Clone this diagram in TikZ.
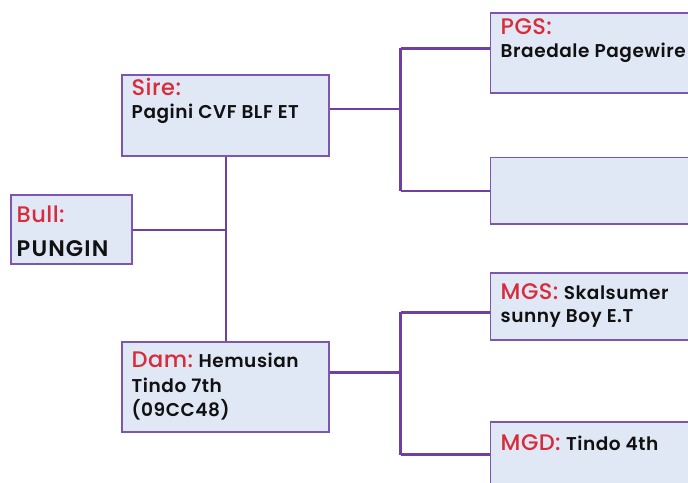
\documentclass[tikz,border=0pt]{standalone}
\usepackage{fontspec}
\setmainfont{Poppins}
\newfontfamily\labfont{Poppins Medium}[LetterSpace=2]
\newfontfamily\txtfont{Poppins SemiBold}[LetterSpace=3]
\newfontfamily\bigtxtfont{Poppins SemiBold}[LetterSpace=5]
\definecolor{boxfill}{HTML}{E0E7F5}
\definecolor{boxline}{HTML}{7E55B0}
\definecolor{conn}{HTML}{7040A0}
\definecolor{labred}{HTML}{D92B3A}
\definecolor{txtblack}{HTML}{111111}
\tikzset{
  pbox/.style={draw=boxline, fill=boxfill, line width=1.8pt, rectangle, inner sep=0pt},
  lab/.style={anchor=base west, inner sep=0pt, text=labred, font=\labfont\fontsize{22.5}{24}\selectfont},
  txt/.style={anchor=base west, inner sep=0pt, text=txtblack, font=\txtfont\fontsize{18.5}{20}\selectfont},
  conline/.style={draw=conn, line width=2.6pt},
}
\begin{document}
\begin{tikzpicture}[x=1pt,y=-1pt]
\useasboundingbox (0,0) rectangle (688,482);
\clip (0,0) rectangle (688,482);
% boxes
\node[pbox, minimum width=121pt, minimum height=69.5pt] (bull) at (71.5,229.5) {};
\node[pbox, minimum width=207pt, minimum height=81pt] (sire) at (225.2,115.5) {};
\node[pbox, minimum width=207pt, minimum height=90pt] (dam) at (225.2,386.8) {};
\node[pbox, minimum width=220pt, minimum height=79.5pt] (pgs) at (600.5,53) {};
\node[pbox, minimum width=220pt, minimum height=66.5pt] (pgd) at (600.5,190.8) {};
\node[pbox, minimum width=220pt, minimum height=66.7pt] (mgs) at (600.5,306.7) {};
\node[pbox, minimum width=220pt, minimum height=80pt] (mgd) at (600.5,462) {};
% junction coordinates
\coordinate (j1) at (226,230);
\coordinate (j2) at (400.5,109);
\coordinate (j3) at (400.5,372.7);
\coordinate (pgsin) at (400.5,48.3);
\coordinate (pgdin) at (400.5,191);
\coordinate (mgsin) at (400.5,312.3);
\coordinate (mgdin) at (400.5,454.7);
% connectors
\draw[conline] (bull.east |- j1) -- (j1);
\draw[conline] (sire.south -| j1) -- (dam.north -| j1);
\draw[conline] (sire.east |- j2) -- (j2);
\draw[conline] (pgsin) -- (pgdin);
\draw[conline] (pgsin) -- (pgs.west |- pgsin);
\draw[conline] (pgdin) -- (pgd.west |- pgdin);
\draw[conline] (dam.east |- j3) -- (j3);
\draw[conline] (mgsin) -- (mgdin);
\draw[conline] (mgsin) -- (mgs.west |- mgsin);
\draw[conline] (mgdin) -- (mgd.west |- mgdin);
% texts
\node[lab] (bulll) at (16.5,222.7) {Bull:};
\node[txt, font=\bigtxtfont\fontsize{22.5}{24}\selectfont] (bullt) at (16.5,256.5) {PUNGIN};
\node[lab] (sirel) at (131.5,95.3) {Sire:};
\node[txt] (siret) at (131.5,118.5) {Pagini CVF BLF ET};
\node[lab] (daml) at (131.5,367.3) {Dam:};
\node[txt] (damt1) at (daml.base east) {\ Hemusian};
\node[txt] (damt2) at (131.5,392.3) {Tindo 7th};
\node[txt] (damt3) at (131.5,416.3) {(09CC48)};
\node[lab] (pgsl) at (500.5,34.3) {PGS:};
\node[txt] (pgst) at (500.5,57.3) {Braedale Pagewire};
\node[lab] (mgsl) at (500.5,299.3) {MGS:};
\node[txt] (mgst1) at (mgsl.base east) {\ Skalsumer};
\node[txt] (mgst2) at (500.5,322.7) {sunny Boy E.T};
\node[lab] (mgdl) at (500.5,450) {MGD:};
\node[txt] (mgdt) at (mgdl.base east) {\ Tindo 4th};
\end{tikzpicture}
\end{document}
